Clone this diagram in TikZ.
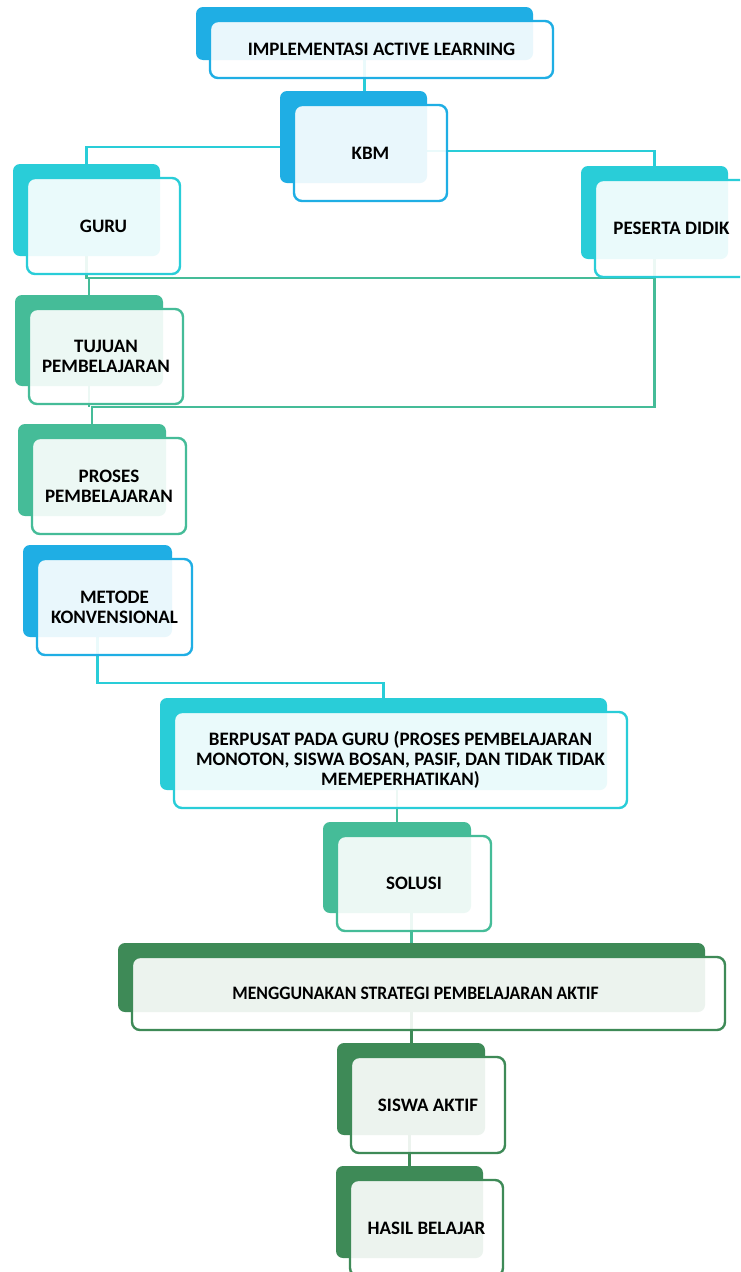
\documentclass[tikz,border=0pt]{standalone}
\usepackage{fontspec}
\setmainfont{Carlito}
\newfontfamily\condfont[FakeStretch=0.93]{Carlito}
\usetikzlibrary{calc}
\definecolor{cblue}{HTML}{1FAEE4}
\definecolor{ccyan}{HTML}{29CDD8}
\definecolor{cteal}{HTML}{45BC98}
\definecolor{cdkgreen}{HTML}{3E8A57}
\pgfdeclarelayer{bg}
\pgfsetlayers{bg,main}
\tikzset{
  backbox/.style={rounded corners=7pt, inner sep=0pt, outer sep=0pt, anchor=north west},
  frontbox/.style={rounded corners=8pt, inner sep=0pt, outer sep=0pt, anchor=north west,
    line width=2.4pt, fill=white, fill opacity=0.9, draw opacity=1},
  lbl/.style={font=\bfseries\fontsize{19}{20}\selectfont, align=center, text=black},
  conn/.style={line width=2.2pt},
}
\newcommand\mybx[8][]{%
  \node[backbox, fill=#7, minimum width={(#5-#3)*1pt}, minimum height={(#6-#4)*1pt}] (#2B) at (#3,#4) {};
  \node[frontbox, draw=#7, minimum width={(#5-#3+6)*1pt}, minimum height={(#6-#4+4)*1pt}] (#2F) at (#3+14,#4+14) {};
  \node[lbl,#1] (#2T) at (#2F.center) {#8};
}
\begin{document}
\begin{tikzpicture}[x=1pt,y=-1pt]
\useasboundingbox (0,0) rectangle (740,1272);
\clip (0,0) rectangle (740,1272);
\mybx{impl}{196}{7}{533}{60}{cblue}{IMPLEMENTASI ACTIVE LEARNING}
\mybx{kbm}{280}{91}{427}{183}{cblue}{KBM}
\mybx{guru}{13}{164}{160}{256}{ccyan}{GURU}
\mybx{pes}{581}{166}{728}{259}{ccyan}{PESERTA DIDIK}
\mybx{tuj}{15}{295}{163}{386}{cteal}{TUJUAN\\PEMBELAJARAN}
\mybx{pro}{18}{424}{166}{516}{cteal}{PROSES\\PEMBELAJARAN}
\mybx{met}{23}{545}{172}{637}{cblue}{METODE\\KONVENSIONAL}
\mybx{ber}{160}{698}{607}{790}{ccyan}{BERPUSAT PADA GURU (PROSES PEMBELAJARAN\\MONOTON, SISWA BOSAN, PASIF, DAN TIDAK TIDAK\\MEMEPERHATIKAN)}
\mybx{sol}{323}{822}{471}{913}{cteal}{SOLUSI}
\mybx[xshift=-13pt]{men}{118}{943}{705}{1012}{cdkgreen}{\condfont MENGGUNAKAN STRATEGI PEMBELAJARAN AKTIF}
\mybx{sis}{337}{1043}{485}{1135}{cdkgreen}{SISWA AKTIF}
\mybx{has}{336}{1166}{483}{1258}{cdkgreen}{HASIL BELAJAR}
\begin{pgfonlayer}{bg}
\fill[white] (0,0) rectangle (740,1272);
\draw[conn, ccyan] (implB.center) -- (implB.center |- kbmB.north);
\draw[conn, ccyan] (kbmB.center |- 0,147) -| (guruB.north);
\draw[conn, ccyan] (kbmB.center |- 0,151) -| (pesB.north);
\coordinate (j1) at (guruB.center |- 0,278);
\draw[conn, cteal] (guruB.center) -- (j1) -- (j1 -| pesB.center) -- (pesB.center);
\draw[conn, cteal] (tujB.north) -- (tujB.north |- j1);
\coordinate (j2) at (pesB.center |- 0,407);
\draw[conn, cteal] (pesB.center) -- (j2) -| (proB.north);
\draw[conn, cteal] (tujB.center) -- (tujB.center |- j2);
\coordinate (j3) at (metB.center |- 0,683);
\draw[conn, ccyan] (metB.center) -- (j3) -| (berB.north);
\draw[conn, cteal] (solB.center |- berB.center) -- (solB.north);
\draw[conn, cteal] (menB.center |- solB.center) -- (menB.north);
\draw[conn, cdkgreen] (menB.center) -- (menB.center |- sisB.north);
\draw[conn, cdkgreen] (hasB.center |- sisB.center) -- (hasB.north);
\end{pgfonlayer}
\end{tikzpicture}
\end{document}
